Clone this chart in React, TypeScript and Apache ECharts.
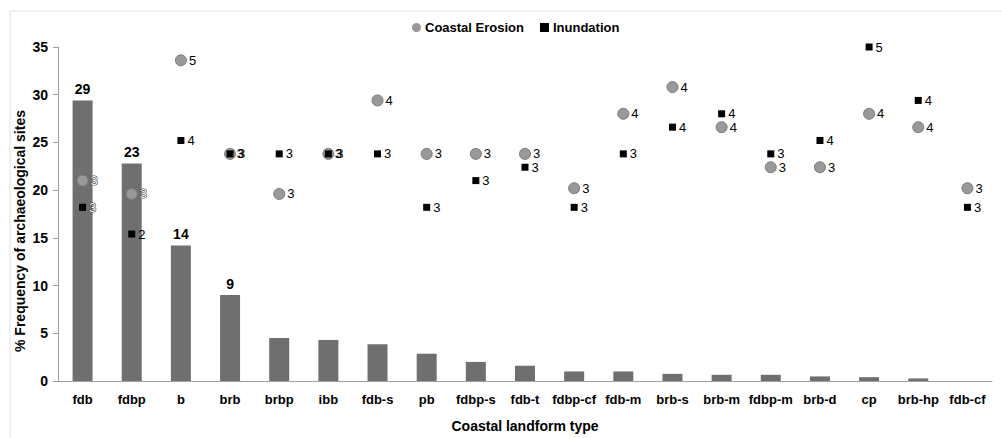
import React, { useEffect, useRef } from "react";
import * as echarts from "echarts";

const categories = ["fdb","fdbp","b","brb","brbp","ibb","fdb-s","pb","fdbp-s","fdb-t","fdbp-cf","fdb-m","brb-s","brb-m","fdbp-m","brb-d","cp","brb-hp","fdb-cf"];
const frequency = [29.4,22.8,14.2,9.0,4.5,4.3,3.85,2.86,2.0,1.6,1.0,1.0,0.75,0.65,0.65,0.48,0.4,0.27,0];
const barLabels = ["29","23","14","9","","","","","","","","","","","","","","",""];
const erosionY = [21.0,19.6,33.6,23.8,19.6,23.8,29.4,23.8,23.8,23.8,20.2,28.0,30.8,26.6,22.4,22.4,28.0,26.6,20.2];
const erosionLabels = [3,3,5,3,3,3,4,3,3,3,3,4,4,4,3,3,4,4,3];
const inundationY = [18.2,15.4,25.2,23.8,23.8,23.8,23.8,18.2,21.0,22.4,18.2,23.8,26.6,28.0,23.8,25.2,35.0,29.4,18.2];
const inundationLabels = [3,2,4,3,3,3,3,3,3,3,3,3,4,4,3,4,5,4,3];
const erosionWhite = [true,true,false,false,false,false,false,false,false,false,false,false,false,false,false,false,false,false,false];
const inundationWhite = [true,false,false,false,false,false,false,false,false,false,false,false,false,false,false,false,false,false,false];
const yTicks = { min: 0, max: 35, interval: 5 };

const FONT = "'Liberation Sans', Arial, sans-serif";
const NARROW = "'Liberation Sans Narrow', 'Liberation Sans', Arial, sans-serif";

export default function App() {
  const ref = useRef<HTMLDivElement>(null);
  useEffect(() => {
    if (!ref.current) return;
    const chart = echarts.init(ref.current, undefined, { renderer: "svg" });
    const point = (v: number, i: number, lbl: number, white: boolean) => ({
      value: [categories[i], v],
      lbl,
      label: white
        ? { color: "#fff", textBorderColor: "#222", textBorderWidth: 1 }
        : undefined,
    });
    const markerLabel = (distance: number) => ({
      show: true,
      position: "right",
      distance,
      fontSize: 13,
      lineHeight: 13,
      color: "#000",
      fontFamily: NARROW,
      formatter: (p: any) => String(p.data.lbl),
    });
    chart.setOption({
      animation: false,
      backgroundColor: "#fff",
      textStyle: { fontFamily: FONT },
      graphic: [
        {
          type: "rect",
          shape: { x: 10, y: 11, width: 1000, height: 440 },
          style: { fill: "none", stroke: "#e2e2e2", lineWidth: 1 },
          silent: true,
          z: -1,
        },
        {
          type: "text",
          x: 20,
          y: 231,
          rotation: Math.PI / 2,
          style: {
            text: "% Frequency of archaeological sites",
            font: `bold 14px ${FONT}`,
            fill: "#000",
            textAlign: "center",
            textVerticalAlign: "middle",
          },
        },
      ],
      legend: {
        top: 16,
        left: 407,
        itemWidth: 9,
        itemHeight: 9,
        itemGap: 16,
        textStyle: { fontSize: 13, fontWeight: "bold", color: "#000", fontFamily: FONT, padding: [0, 0, 0, -1] },
        data: [
          { name: "Coastal Erosion", icon: "circle", itemStyle: { color: "#999", borderWidth: 0 } },
          { name: "Inundation", icon: "rect", itemStyle: { color: "#000" } },
        ],
      },
      grid: { left: 58, right: 10, top: 47, bottom: 48 },
      xAxis: {
        type: "category",
        data: categories,
        name: "Coastal landform type",
        nameLocation: "middle",
        nameGap: 38,
        nameTextStyle: { fontSize: 14, fontWeight: "bold", color: "#000", fontFamily: FONT },
        axisLine: { lineStyle: { color: "#a0a0a0", width: 1 } },
        axisTick: { inside: true, length: 4, lineStyle: { color: "#a0a0a0" } },
        axisLabel: { margin: 12, fontSize: 13, fontWeight: "bold", color: "#000", interval: 0, fontFamily: FONT },
      },
      yAxis: {
        type: "value",
        min: yTicks.min,
        max: yTicks.max,
        interval: yTicks.interval,
        splitLine: { show: false },
        axisLine: { show: true, lineStyle: { color: "#a0a0a0", width: 1 } },
        axisTick: { show: true, length: 5, lineStyle: { color: "#a0a0a0" } },
        axisLabel: { margin: 10, fontSize: 14, fontWeight: "bold", color: "#000", fontFamily: FONT },
      },
      series: [
        {
          type: "bar",
          name: "Frequency",
          barWidth: 20,
          itemStyle: { color: "#6f6f6f" },
          data: frequency.map((v, i) => ({
            value: v,
            label: {
              show: barLabels[i] !== "",
              position: "top",
              distance: 4,
              formatter: barLabels[i],
              fontSize: 14,
              fontWeight: "bold",
              color: "#000",
              fontFamily: FONT,
            },
          })),
          z: 1,
        },
        {
          type: "scatter",
          name: "Coastal Erosion",
          symbol: "circle",
          symbolSize: 11,
          itemStyle: { color: "#999999", borderColor: "#7a7a7a", borderWidth: 1, opacity: 1 },
          label: markerLabel(2),
          data: erosionY.map((v, i) => point(v, i, erosionLabels[i], erosionWhite[i])),
          z: 3,
        },
        {
          type: "scatter",
          name: "Inundation",
          symbol: "rect",
          symbolSize: 7,
          itemStyle: { color: "#000", opacity: 1 },
          label: markerLabel(3),
          data: inundationY.map((v, i) => point(v, i, inundationLabels[i], inundationWhite[i])),
          z: 4,
        },
      ],
    });
    return () => chart.dispose();
  }, []);
  return (
    <div
      ref={ref}
      style={{ position: "fixed", left: 0, top: 0, width: 1002, height: 438, background: "#fff" }}
    />
  );
}
